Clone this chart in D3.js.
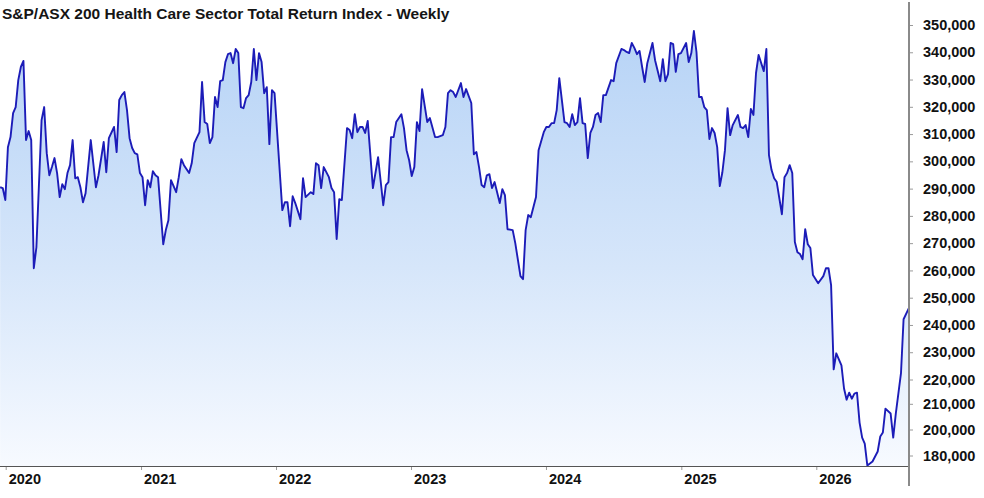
<!DOCTYPE html>
<html>
<head>
<meta charset="utf-8">
<script src="https://cdn.jsdelivr.net/npm/d3@7"></script>
<style>
  html, body { margin: 0; padding: 0; background: #ffffff; }
  svg { display: block; }
  text { font-family: "Liberation Sans", Arial, sans-serif; }
</style>
</head>
<body>
<svg id="chart" width="984" height="498"></svg>
<script>
// ---- Data ----
const titleText = "S&P/ASX 200 Health Care Sector Total Return Index - Weekly";
const seriesStart = "2019-12-17";               // first weekly observation
// week number since seriesStart for each observation
const weekNumbers = [
  0,1,2,3,4,5,6,7,8,9,10,11,12,13,14,16,17,18,19,20,21,22,23,24,25,26,27,28,29,30,31,32,33,35,37,38,
  40,41,42,44,45,46,47,48,49,50,51,52,53,54,55,56,57,58,59,60,61,63,64,65,66,68,69,70,71,73,74,75,77,
  78,79,80,81,82,83,84,85,86,87,88,89,90,91,92,93,94,95,96,97,98,99,100,101,102,103,104,105,106,
  109,110,111,112,113,114,116,117,118,120,121,122,123,124,125,127,128,129,130,131,132,134,135,136,
  137,138,139,140,141,142,144,146,148,149,150,151,152,153,155,156,157,158,159,160,161,162,163,165,
  166,168,169,171,172,173,174,175,176,178,179,180,182,183,184,185,186,187,188,189,190,191,193,194,
  195,196,198,199,201,202,203,204,205,207,208,210,211,212,213,214,215,216,218,219,220,221,222,223,
  224,225,226,227,228,229,230,231,232,233,234,236,237,238,240,241,242,243,244,245,246,247,248,249,
  250,252,253,255,256,257,258,259,260,261,262,263,265,266,267,268,269,270,271,272,273,274,275,276,
  277,278,279,280,281,282,283,285,286,287,288,289,290,291,292,293,295,296,297,298,299,300,302,303,
  304,305,306,307,308,309,310,311,312,313,314,316,318,319,320,321,322,323,325,326,327,328,329,330,
  331,332,333,334,335,336,337,339,340,341,342,344,345,346,348,349,351
];
const indexValues = [
  290500,290200,285800,305200,308900,317700,319900,329800,334600,336800,307800,311100,307800,260800,268500,315100,319900,303000,294900,297900,301200,295700,286900,291600,289800,295700,298600,307800,293800,294200,290500,285000,288300,307800,290500,294900,
  307100,296000,308500,312600,303400,322500,324300,325400,318800,308500,304900,303000,302600,295700,294200,283900,293100,290500,296400,294900,294200,269600,274800,278400,293100,288700,294200,300800,298600,295700,299300,306700,310700,
  329100,314400,313700,306700,308900,323600,319900,329400,329800,336400,339300,339700,336000,341200,339700,319900,319500,323200,324300,329100,341200,329800,339700,336400,325000,327200,306300,326100,325000,
  282100,285000,285000,276200,287200,284700,278800,293800,286900,288700,288000,299300,298600,290200,297900,294200,290200,288700,271500,286100,285800,312200,311500,308500,
  317300,310700,312600,312600,310400,314800,290200,301500,283900,291300,292400,308900,308900,314400,317300,312200,304100,300400,294600,297900,314400,311100,326500,314400,
  315900,308900,308900,309600,312600,325000,326100,325400,323600,328700,323600,326500,321400,302600,303400,297900,291300,290500,294900,295300,290200,292400,284700,289800,
  287600,275100,274800,270000,257900,256800,274800,280300,279500,286900,304100,310700,312600,312600,314000,314000,318800,330500,314400,314000,312600,317300,313300,314400,
  323200,314000,313700,301200,310400,312600,317000,317700,314400,324300,324300,329800,329400,336000,341200,340800,340100,339700,343400,341600,339300,340500,334600,329100,
  336000,343400,337100,329400,337500,329400,332000,343400,343000,332800,339300,339700,343400,336400,339700,347800,340100,323600,323600,319900,318800,308200,312200,310400,
  305200,290900,296000,304100,319500,309600,313300,317000,312600,312200,313300,308900,319200,317000,332400,339000,333100,341200,302300,296800,293800,292400,280600,294200,
  295700,298600,295700,270400,266700,266000,264100,275100,269600,268200,258300,255300,257900,260800,260800,254600,223700,229600,225200,216300,211700,214600,212100,214200,
  214600,202700,193800,189200,172300,173800,175400,183100,194600,197700,208100,206200,193800,206200,222300,242100,246100
];
const yearTicks = [2020, 2021, 2022, 2023, 2024, 2025, 2026];
const yTickValues = [180000, 200000, 210000, 220000, 230000, 240000, 250000, 260000, 270000,
                     280000, 290000, 300000, 310000, 320000, 330000, 340000, 350000];
const yTickLabels = ["180,000", "200,000", "210,000", "220,000", "230,000", "240,000", "250,000",
                     "260,000", "270,000", "280,000", "290,000", "300,000", "310,000", "320,000",
                     "330,000", "340,000", "350,000"];

// ---- Layout ----
const W = 984, H = 498;
const plotLeft = 0, plotRight = 909, plotBottom = 466, plotTop = 2;

const parse = d3.timeParse("%Y-%m-%d");
const start = parse(seriesStart);
const data = weekNumbers.map((w, i) => ({ date: d3.timeDay.offset(start, 7 * w), value: indexValues[i] }));

// x: time scale anchored on year starts as placed in the reference
const x = d3.scaleTime()
  .domain([new Date(2020, 0, 1), new Date(2026, 0, 1)])
  .range([5.7, 816.3]);

// y: the reference axis spaces its bottom labels unevenly; follow its tick positions
const y = d3.scaleLinear()
  .domain([180000, 200000, 210000, 220000, 350000])
  .range([455.5, 429.5, 403.8, 379.5, 25]);

const svg = d3.select("#chart");

// gradient fill
const defs = svg.append("defs");
const grad = defs.append("linearGradient")
  .attr("id", "fillGrad")
  .attr("gradientUnits", "userSpaceOnUse")
  .attr("x1", 0).attr("x2", 0).attr("y1", 25).attr("y2", plotBottom);
grad.append("stop").attr("offset", "0%").attr("stop-color", "#b6d3f6");
grad.append("stop").attr("offset", "55%").attr("stop-color", "#d6e6fa");
grad.append("stop").attr("offset", "100%").attr("stop-color", "#f7faff");

defs.append("clipPath").attr("id", "plotClip")
  .append("rect").attr("x", plotLeft).attr("y", 0)
  .attr("width", plotRight - plotLeft).attr("height", plotBottom);

const g = svg.append("g").attr("clip-path", "url(#plotClip)");

const area = d3.area()
  .x(d => x(d.date))
  .y0(plotBottom)
  .y1(d => y(d.value));

const line = d3.line()
  .x(d => x(d.date))
  .y(d => y(d.value));

g.append("path").datum(data)
  .attr("d", area)
  .attr("fill", "url(#fillGrad)");

g.append("path").datum(data)
  .attr("d", line)
  .attr("fill", "none")
  .attr("stroke", "#1c1cb8")
  .attr("stroke-width", 1.9)
  .attr("stroke-linejoin", "round");

// x axis
const xAxis = d3.axisBottom(x)
  .tickValues(yearTicks.map(yr => new Date(yr, 0, 1)))
  .tickFormat(d3.timeFormat("%Y"))
  .tickSize(4)
  .tickSizeOuter(0);
const xg = svg.append("g").attr("transform", `translate(0,${plotBottom})`).call(xAxis);
xg.select(".domain").remove();
xg.selectAll(".tick line").attr("stroke", "#9a9a9a").attr("stroke-width", 1);
xg.selectAll(".tick text")
  .attr("x", 2.5).attr("y", 17.5).attr("dy", 0)
  .attr("text-anchor", "start")
  .attr("fill", "#111")
  .style("font-size", "14.5px").style("font-weight", "bold")
  .style("font-family", '"Liberation Sans", Arial, sans-serif');
svg.append("line")
  .attr("x1", plotLeft).attr("x2", plotRight)
  .attr("y1", plotBottom + 0.5).attr("y2", plotBottom + 0.5)
  .attr("stroke", "#555").attr("stroke-width", 1.2);

// y axis (right)
const yAxis = d3.axisRight(y)
  .tickValues(yTickValues)
  .tickFormat((d, i) => yTickLabels[i])
  .tickSize(4)
  .tickPadding(10)
  .tickSizeOuter(0);
const yg = svg.append("g").attr("transform", `translate(${plotRight},0)`).call(yAxis);
yg.select(".domain").remove();
yg.selectAll(".tick line").attr("stroke", "#9a9a9a").attr("stroke-width", 1);
yg.selectAll(".tick text")
  .attr("fill", "#111")
  .style("font-size", "14.5px").style("font-weight", "bold")
  .style("font-family", '"Liberation Sans", Arial, sans-serif');
svg.append("line")
  .attr("x1", plotRight).attr("x2", plotRight)
  .attr("y1", plotTop).attr("y2", 486)
  .attr("stroke", "#8a8a8a").attr("stroke-width", 2);

// title
svg.append("text")
  .attr("x", 2).attr("y", 18.5)
  .attr("fill", "#151515")
  .style("font-size", "15.5px").style("font-weight", "bold")
  .text(titleText);
</script>
</body>
</html>
